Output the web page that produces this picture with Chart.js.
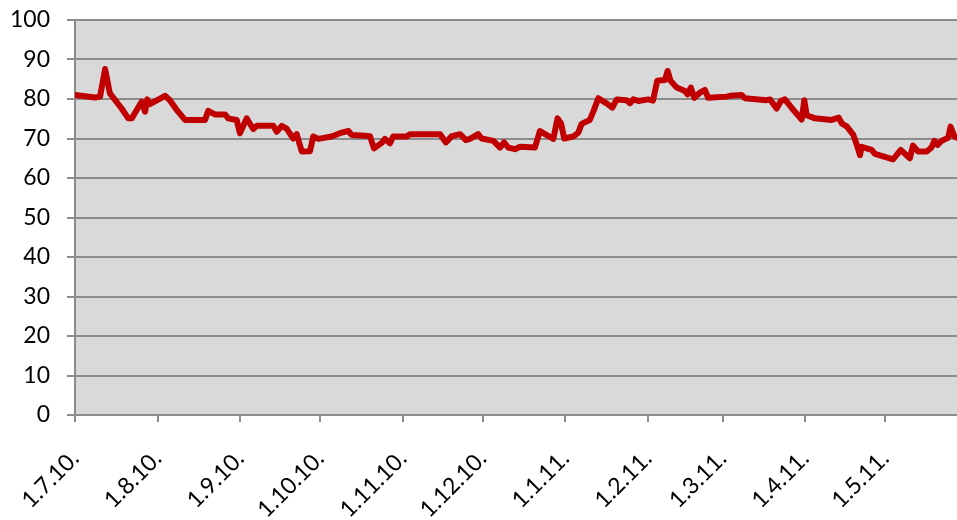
<!DOCTYPE html>
<html>
<head>
<meta charset="utf-8">
<script src="https://cdn.jsdelivr.net/npm/chart.js@4.4.0/dist/chart.umd.min.js"></script>
<style>
  html, body { margin: 0; padding: 0; background: #fff; }
  #wrap { width: 957px; height: 520px; }
</style>
</head>
<body>
<div id="wrap"><canvas id="myChart"></canvas></div>
<script>
// days since 1.7.2010, and the value on that day
const days = [0, 7.5, 9.4, 11.3, 13.1, 17.5, 20, 21.3, 25, 26.3, 27.1, 28.1, 33.8, 35.6, 38.2, 41.3, 48.8, 50, 52.5, 56.3, 57.5, 60.7, 61.9, 64.4, 66.9, 68.2, 74.4, 75.7, 77.6, 79.4, 81.9, 83.2, 85.1, 88.2, 89.4, 91.3, 96.3, 100.1, 102.6, 103.8, 108.8, 110.7, 112.2, 115.1, 116.3, 118.2, 119.4, 124.5, 125.7, 137, 139.2, 141.4, 144.5, 146.7, 148.2, 151.3, 152.6, 157, 159.5, 161, 162.6, 165.1, 167, 172.6, 174.5, 176.4, 179.5, 181.1, 182.4, 183.6, 187, 188.9, 190.1, 193.2, 194.5, 196.4, 199.5, 201.6, 203.3, 207, 208.3, 209.5, 211.4, 215.1, 216.9, 218.5, 221.4, 222.4, 223.5, 225.8, 228.9, 229.9, 231.1, 232.4, 234.5, 236.4, 237.6, 244.5, 245.8, 250.2, 251.4, 259.5, 260.8, 263.3, 264.9, 266.4, 268.9, 272.7, 273.7, 274.6, 277.7, 284, 286.6, 287.8, 289.7, 292.1, 293.4, 294.6, 295.2, 299, 300.2, 307, 309.9, 313.3, 314.5, 316.4, 319.6, 321.4, 322.5, 323.7, 325.2, 327.7, 328.6, 330, 331];
const values = [81.0, 80.4, 80.6, 87.6, 81.4, 77.6, 75.1, 75.1, 79.3, 76.8, 79.9, 78.7, 80.8, 79.7, 77.2, 74.7, 74.7, 77.0, 76.1, 76.1, 75.1, 74.7, 71.3, 75.1, 72.4, 73.2, 73.2, 71.7, 73.2, 72.5, 70.0, 71.1, 66.7, 66.8, 70.5, 69.9, 70.5, 71.5, 71.9, 70.9, 70.7, 70.6, 67.5, 68.9, 69.9, 68.8, 70.5, 70.5, 71.1, 71.1, 69.0, 70.6, 71.1, 69.6, 69.9, 71.1, 70.0, 69.4, 67.7, 69.0, 67.7, 67.3, 67.9, 67.7, 71.9, 71.1, 69.9, 75.1, 73.8, 70.0, 70.5, 71.5, 73.7, 74.7, 76.8, 80.2, 78.9, 77.8, 79.9, 79.7, 78.9, 79.9, 79.5, 79.9, 79.6, 84.6, 84.8, 87.1, 84.6, 82.9, 82.0, 81.2, 82.9, 80.3, 81.6, 82.3, 80.3, 80.6, 80.8, 81.0, 80.2, 79.7, 79.9, 77.6, 79.5, 79.9, 77.8, 74.8, 79.7, 75.9, 75.1, 74.7, 75.3, 73.8, 73.0, 70.9, 68.4, 65.8, 67.9, 67.1, 66.1, 64.7, 67.1, 65.0, 68.2, 66.7, 66.7, 67.7, 69.4, 68.4, 69.4, 70.2, 73.0, 70.5, 70.2];

// month starts on the x axis
const monthDays = [0, 31, 62, 92, 123, 153, 184, 215, 243, 274, 304];
const monthLabels = ["1.7.10.", "1.8.10.", "1.9.10.", "1.10.10.", "1.11.10.", "1.12.10.", "1.1.11.", "1.2.11.", "1.3.11.", "1.4.11.", "1.5.11."];

const gray = "#8c8c8c";
const font = { family: "Lato", size: 23 };

const plotBg = {
  id: "plotBg",
  beforeDraw(chart) {
    const { ctx, chartArea: a } = chart;
    ctx.save();
    ctx.fillStyle = "#d9d9d9";
    ctx.fillRect(a.left, a.top, a.right - a.left, a.bottom - a.top);
    ctx.restore();
  },
};

const myChart = document.querySelector("#myChart");
new Chart(myChart, {
  type: "line",
  data: {
    datasets: [
      {
        data: days.map((d, i) => ({ x: d, y: values[i] })),
        borderColor: "#c00000",
        borderWidth: 6,
        borderJoinStyle: "round",
        borderCapStyle: "round",
        pointRadius: 0,
        tension: 0,
      },
    ],
  },
  options: {
    responsive: true,
    maintainAspectRatio: false,
    animation: false,
    layout: { padding: { top: 20, right: 0, left: 0, bottom: 0 } },
    plugins: { legend: { display: false }, tooltip: { enabled: false } },
    scales: {
      x: {
        type: "linear",
        min: 0,
        max: 331,
        afterBuildTicks(scale) {
          scale.ticks = monthDays.map((v) => ({ value: v }));
        },
        afterFit(scale) {
          scale.height = 105;
          scale.paddingLeft = 0;
          scale.paddingRight = 0;
        },
        ticks: {
          autoSkip: false,
          maxRotation: 45,
          minRotation: 45,
          padding: 23,
          color: "#000",
          font,
          callback: (v) => monthLabels[monthDays.indexOf(v)],
        },
        grid: { drawOnChartArea: false, drawTicks: true, tickLength: 7, color: gray, lineWidth: 2 },
        border: { color: gray, width: 2 },
      },
      y: {
        min: 0,
        max: 100,
        afterFit(scale) {
          scale.width = 75;
          scale.paddingTop = 0;
          scale.paddingBottom = 0;
        },
        ticks: { stepSize: 10, padding: 17, color: "#000", font },
        grid: { color: gray, lineWidth: 2, tickLength: 8 },
        border: { color: gray, width: 2 },
      },
    },
  },
  plugins: [plotBg],
});
</script>
</body>
</html>
